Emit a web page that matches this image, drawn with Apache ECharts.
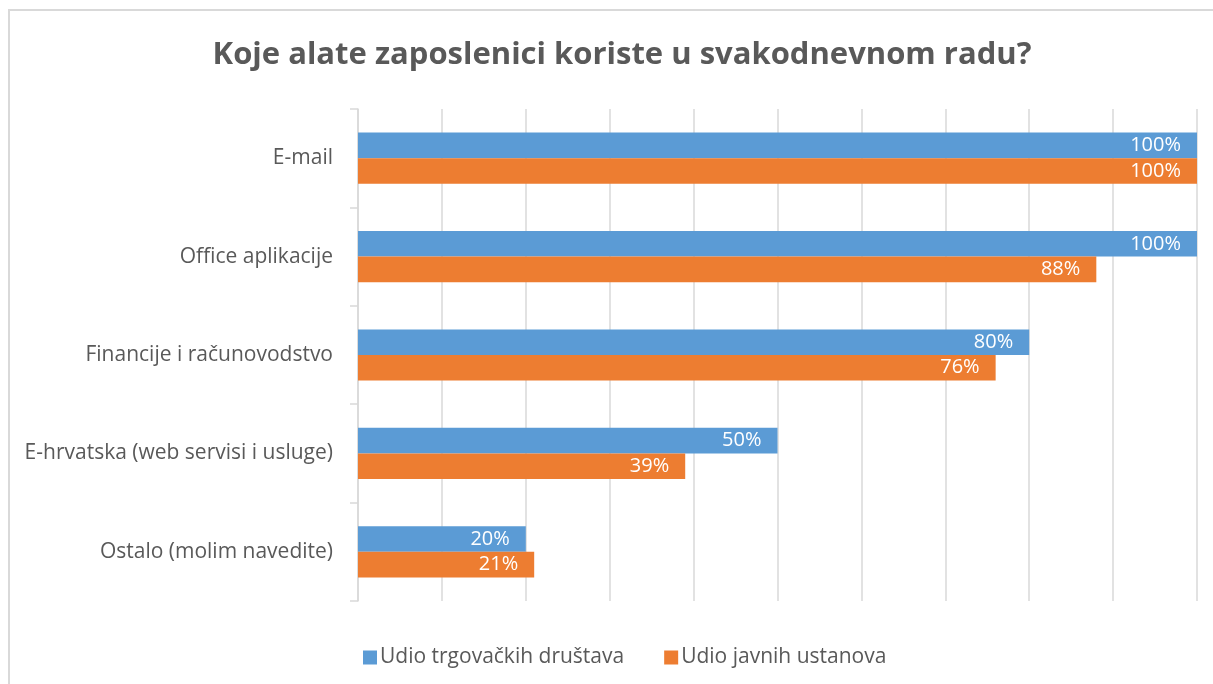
<!DOCTYPE html>
<html>
<head>
<meta charset="utf-8">
<script src="https://cdn.jsdelivr.net/npm/echarts@6/dist/echarts.min.js"></script>
<style>
  html, body { margin: 0; padding: 0; background: #ffffff; }
  #chart { width: 1213px; height: 684px; }
</style>
</head>
<body>
<div id="chart"></div>
<script>
// Tools used by employees in daily work, share of respondents (%)
const categories = [
  'E-mail',
  'Office aplikacije',
  'Financije i računovodstvo',
  'E-hrvatska (web servisi i usluge)',
  'Ostalo (molim navedite)'
];
const tradeCompanies = [100, 100, 80, 50, 20];
const publicInstitutions = [100, 88, 76, 39, 21];
const seriesNames = ['Udio trgovačkih društava', 'Udio javnih ustanova'];
const titleText = 'Koje alate zaposlenici koriste u svakodnevnom radu?';

const FONT = '"Open Sans", Lato, sans-serif';
const TEXT = '#595959';
const GRID = '#d9d9d9';

const chart = echarts.init(document.getElementById('chart'), null, { renderer: 'canvas' });

const barLabel = {
  show: true,
  position: 'insideRight',
  distance: 16,
  color: '#ffffff',
  fontFamily: FONT,
  fontSize: 20,
  formatter: p => p.value + '%'
};

chart.setOption({
  backgroundColor: '#ffffff',
  animation: false,
  graphic: [{
    type: 'rect',
    shape: { x: 9, y: 10, width: 1240, height: 700 },
    style: { fill: 'none', stroke: GRID, lineWidth: 2 },
    silent: true
  }],
  title: {
    text: titleText,
    left: 617,
    textAlign: 'center',
    top: 35,
    textStyle: { fontFamily: FONT, fontSize: 31, fontWeight: 'bold', color: TEXT }
  },
  legend: {
    data: seriesNames,
    left: 358,
    top: 642,
    itemWidth: 14,
    itemHeight: 14,
    itemGap: 40,
    icon: 'rect',
    textStyle: { fontFamily: FONT, fontSize: 21, color: TEXT, padding: [0, 0, 0, -2] }
  },
  grid: { left: 358, right: 16, top: 109, bottom: 83, containLabel: false },
  xAxis: {
    type: 'value',
    min: 0,
    max: 100,
    interval: 10,
    axisLabel: { show: false },
    axisLine: { show: false },
    axisTick: { show: false },
    splitLine: { show: true, lineStyle: { color: GRID, width: 1.5 } }
  },
  yAxis: {
    type: 'category',
    data: categories,
    inverse: true,
    axisLine: { show: true, lineStyle: { color: GRID, width: 1.5 } },
    axisTick: { show: true, inside: false, length: 8, lineStyle: { color: GRID, width: 1.5 } },
    axisLabel: { margin: 25, fontFamily: FONT, fontSize: 21, color: TEXT }
  },
  series: [
    {
      name: seriesNames[0],
      type: 'bar',
      data: tradeCompanies,
      barGap: '0%',
      barCategoryGap: '48%',
      itemStyle: { color: '#5b9bd5' },
      label: barLabel
    },
    {
      name: seriesNames[1],
      type: 'bar',
      data: publicInstitutions,
      barGap: '0%',
      barCategoryGap: '48%',
      itemStyle: { color: '#ed7d31' },
      label: barLabel
    }
  ]
});
</script>
</body>
</html>
